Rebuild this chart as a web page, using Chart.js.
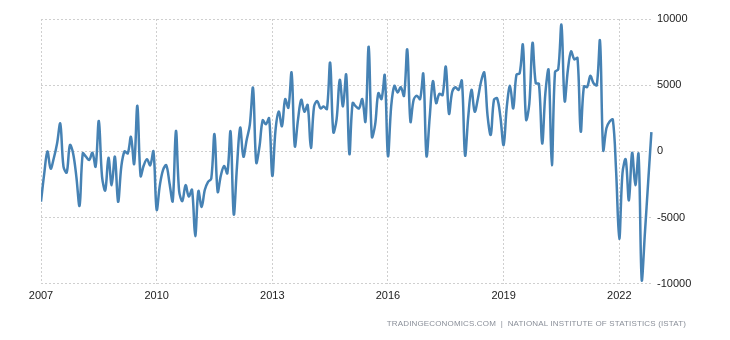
<!DOCTYPE html>
<html>
<head>
<meta charset="utf-8">
<script src="https://cdn.jsdelivr.net/npm/chart.js@4"></script>
<style>
  body { margin: 0; background: #fff; }
  #wrap { position: relative; width: 730px; height: 340px; }
  #source {
    position: absolute; right: 44px; top: 319px;
    font-family: "Liberation Sans", Arial, sans-serif; font-size: 8px;
    color: #8a8f99; white-space: nowrap; letter-spacing: 0.15px;
  }
</style>
</head>
<body>
<div id="wrap">
  <canvas id="tradeChart" width="730" height="340"></canvas>
  <div id="source">TRADINGECONOMICS.COM &nbsp;|&nbsp; NATIONAL INSTITUTE OF STATISTICS (ISTAT)</div>
</div>
<script>
// Monthly balance of trade, EUR million, Jan 2007 - Nov 2022
const startYear = 2007;
const balance = [
    -3800, -1700, 0, -1300, -500, 600, 2100, -1150, -1600, 480, -150, -1900,      // 2007
    -4100, -150, -400, -650, -100, -1150, 2300, -1900, -2950, -480, -2550, -400,   // 2008
    -3800, -1150, 0, -150, 1100, -950, 3450, -1850, -1050, -600, -1050, 0,         // 2009
    -4400, -2550, -1400, -1050, -2400, -3750, 1550, -3000, -3750, -2550, -3400, -2900, // 2010
    -6400, -3000, -4200, -2900, -2300, -2050, 1300, -3050, -1800, -1100, -1650, 1500,  // 2011
    -4750, -1150, 1800, -400, 850, 2000, 4800, -850, 350, 2350, 2050, 2500,        // 2012
    -1850, 1600, 3000, 1900, 3950, 3300, 5950, 400, 2400, 3900, 3000, 3500,        // 2013
    250, 3400, 3800, 3250, 3400, 3200, 6700, 1450, 2400, 5400, 3400, 5800,         // 2014
    -200, 3650, 3400, 3250, 3950, 2250, 7900, 1100, 2000, 4400, 3950, 5750,        // 2015
    -350, 3400, 4950, 4450, 4850, 4200, 7700, 2250, 3900, 4200, 3950, 5850,        // 2016
    -350, 2600, 5300, 3650, 4350, 4250, 6400, 2850, 4500, 4850, 4650, 5350,        // 2017
    -300, 2650, 4650, 3000, 4000, 5300, 5950, 2700, 1250, 3900, 4000, 2600,        // 2018
    480, 3400, 4950, 3250, 5800, 5900, 8050, 2400, 3600, 8200, 5150, 5100,         // 2019
    600, 4400, 6150, -1050, 6000, 6200, 9550, 3800, 6150, 7550, 6950, 7050,        // 2020
    1500, 4900, 4850, 5700, 5150, 5000, 8350, 100, 1750, 2250, 2400, -1400,        // 2021
    -6600, -1650, -600, -3700, -100, -2550, -200, -9750, -6100, -2300, 1450        // 2022
];
const yearTicks = [2007, 2010, 2013, 2016, 2019, 2022];
const valueTicks = [-10000, -5000, 0, 5000, 10000];

const points = balance.map((v, i) => ({ x: startYear + i / 12, y: v }));

const tickFont = { family: "Arial, 'Liberation Sans', sans-serif", size: 11 };

const ctx = document.getElementById("tradeChart").getContext("2d");
const tradeChart = new Chart(ctx, {
    type: "line",
    data: {
        datasets: [
            {
                label: "Balance of Trade",
                data: points,
                borderColor: "#4682b4",
                borderWidth: 2.5,
                pointRadius: 0,
                tension: 0.35,
                fill: false,
            },
        ],
    },
    options: {
        responsive: false,
        animation: false,
        layout: {
            padding: { left: 41, top: 19, right: 0, bottom: 31 },
        },
        plugins: {
            legend: { display: false },
            tooltip: { enabled: false },
        },
        scales: {
            x: {
                type: "linear",
                min: startYear,
                max: startYear + 190.5 / 12,
                afterBuildTicks: (scale) => {
                    scale.ticks = yearTicks.map((v) => ({ value: v }));
                },
                grid: { color: "#cfcfcf", drawTicks: false },
                border: { display: false, dash: [2, 2] },
                ticks: {
                    font: tickFont,
                    color: "#222",
                    padding: 6,
                    maxRotation: 0,
                    autoSkip: false,
                    callback: (v) => String(v),
                },
            },
            y: {
                position: "right",
                min: -10000,
                max: 10000,
                afterBuildTicks: (scale) => {
                    scale.ticks = valueTicks.map((v) => ({ value: v }));
                },
                afterFit: (scale) => {
                    scale.width = 77;
                },
                grid: { color: "#cfcfcf", drawTicks: false },
                border: { display: false, dash: [2, 2] },
                ticks: {
                    font: tickFont,
                    color: "#222",
                    padding: 4,
                    callback: (v) => String(v),
                },
            },
        },
    },
});
</script>
</body>
</html>
